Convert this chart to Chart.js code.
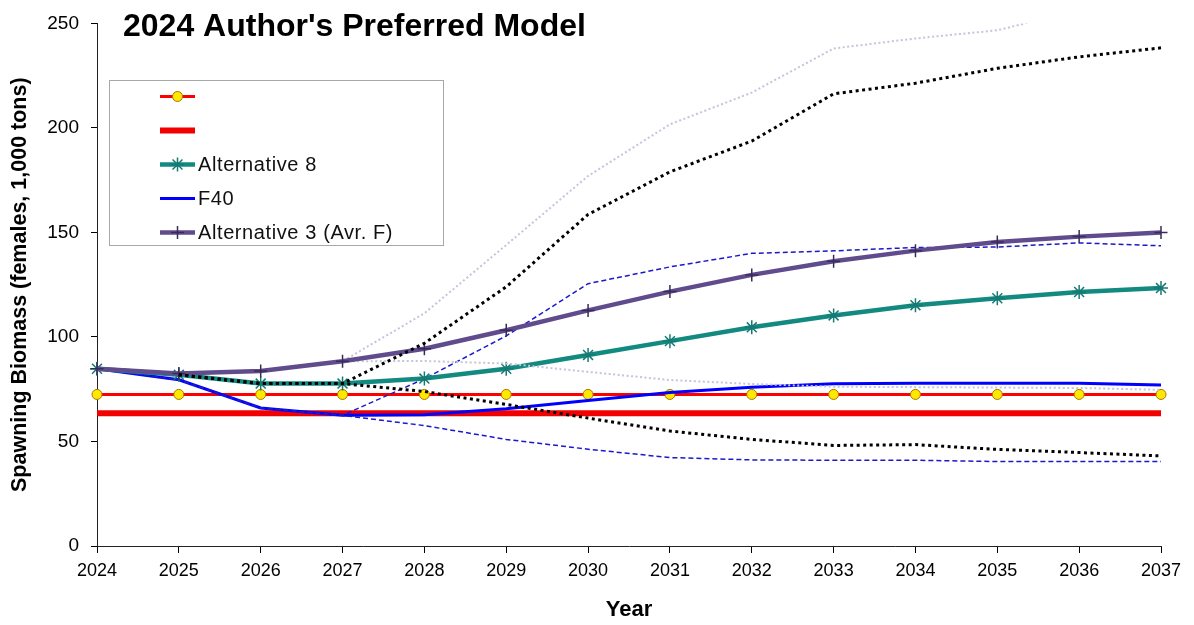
<!DOCTYPE html>
<html>
<head>
<meta charset="utf-8">
<title>2024 Author's Preferred Model</title>
<script src="https://cdn.jsdelivr.net/npm/chart.js@4.4.1/dist/chart.umd.min.js"></script>
<style>
  html, body { margin: 0; padding: 0; background: #fff; }
  #wrap { width: 1194px; height: 625px; }
</style>
</head>
<body>
<div id="wrap"><canvas id="biomass" width="1194" height="625"></canvas></div>
<script>
// projection years and spawning biomass (females, 1,000 tons)
const years = ['2024', '2025', '2026', '2027', '2028', '2029', '2030', '2031', '2032', '2033', '2034', '2035', '2036', '2037'];
const refCircles = [72.5, 72.5, 72.5, 72.5, 72.5, 72.5, 72.5, 72.5, 72.5, 72.5, 72.5, 72.5, 72.5, 72.5];
const refThick = [63.5, 63.5, 63.5, 63.5, 63.5, 63.5, 63.5, 63.5, 63.5, 63.5, 63.5, 63.5, 63.5, 63.5];
const alt8 = [84.8, 81.9, 77.7, 77.7, 80.1, 84.8, 91.4, 98.0, 104.6, 110.3, 115.2, 118.5, 121.5, 123.4];
const f40 = [84.8, 79.5, 66.0, 62.5, 62.8, 65.7, 69.6, 73.4, 76.0, 77.6, 77.8, 77.8, 77.8, 77.0];
const alt3 = [84.8, 82.5, 83.7, 88.4, 94.4, 103.2, 112.7, 121.7, 129.7, 136.2, 141.3, 145.4, 148.0, 150.0];

// upper / lower bounds around each projection
const f40Upper = [84.8, 79.5, 66.0, 62.5, 80.0, 100.5, 125.5, 133.5, 140.0, 141.2, 142.8, 143.0, 145.0, 143.6];
const f40Lower = [84.8, 79.5, 66.0, 62.5, 57.6, 51.0, 46.3, 42.3, 41.2, 41.0, 41.0, 40.4, 40.4, 40.4];
const alt8Upper = [null, 81.9, 77.7, 77.7, 97.0, 124.0, 158.6, 179.0, 193.7, 216.3, 221.4, 228.5, 234.0, 238.3];
const alt8Lower = [null, 81.9, 77.7, 77.7, 73.9, 67.7, 61.2, 55.0, 51.0, 48.1, 48.5, 46.2, 44.7, 43.1];
const alt3Upper = [84.8, 82.5, 83.7, 88.4, 111.3, 144.0, 177.0, 201.7, 216.9, 238.0, 242.8, 246.7, 256.4, 262.0];
const alt3Lower = [84.8, 82.5, 83.7, 88.4, 88.5, 87.3, 83.3, 79.4, 77.5, 76.2, 76.0, 75.8, 75.6, 74.7];

const chartTitle = "2024 Author's Preferred Model";
const FONT = '"Liberation Sans", Arial, sans-serif';

Chart.defaults.font.family = FONT;
Chart.defaults.color = '#000';

function solid(label, data, color, width, order, point) {
  return Object.assign({
    label: label,
    data: data,
    borderColor: color,
    backgroundColor: color,
    borderWidth: width,
    pointRadius: 0,
    tension: 0,
    order: order
  }, point || {});
}

function bound(data, color, width, dash, order) {
  return {
    label: '',
    data: data,
    borderColor: color,
    borderWidth: width,
    borderDash: dash,
    pointRadius: 0,
    tension: 0,
    spanGaps: false,
    order: order
  };
}

const series = [
  solid('', refCircles, '#ff0000', 3, 7, {
    pointRadius: 5, pointStyle: 'circle',
    pointBackgroundColor: '#ffe800', pointBorderColor: '#a87400', pointBorderWidth: 1
  }),
  solid('', refThick, '#f20000', 6, 8),
  solid('Alternative 8', alt8, '#138a80', 4.5, 4, {
    pointRadius: 7, pointStyle: 'star',
    pointBorderColor: '#167a74', pointBorderWidth: 1.5
  }),
  solid('F40', f40, '#0000ff', 3, 6),
  solid('Alternative 3 (Avr. F)', alt3, '#604c8d', 4.5, 2, {
    pointRadius: 6.5, pointStyle: 'cross',
    pointBorderColor: '#3a2a5a', pointBorderWidth: 1.5
  })
];

const bounds = [
  bound(f40Upper, '#1a1acc', 1.5, [5, 3], 5),
  bound(f40Lower, '#1a1acc', 1.5, [5, 3], 5),
  bound(alt8Upper, '#000000', 3, [3, 3.5], 1),
  bound(alt8Lower, '#000000', 3, [3, 3.5], 1),
  bound(alt3Upper, '#c4c4dc', 2, [2, 2.5], 3),
  bound(alt3Lower, '#c4c4dc', 2, [2, 2.5], 3)
];

// title and the boxed legend sit inside the plot area
const overlay = {
  id: 'overlay',
  afterDraw(chart) {
    const c = chart.ctx;
    c.save();
    c.fillStyle = '#000';
    c.font = 'bold 32px ' + FONT;
    c.textBaseline = 'alphabetic';
    c.textAlign = 'left';
    c.fillText(chartTitle, 123, 36);

    c.fillStyle = '#fff';
    c.fillRect(109.5, 80.5, 334, 165);
    c.strokeStyle = '#a8a8a8';
    c.lineWidth = 1;
    c.strokeRect(109.5, 80.5, 334, 165);

    series.forEach((ds, i) => {
      const y = 96.5 + i * 34;
      c.save();
      c.strokeStyle = ds.borderColor;
      c.lineWidth = ds.borderWidth;
      c.setLineDash([]);
      c.beginPath();
      c.moveTo(160, y);
      c.lineTo(195, y);
      c.stroke();
      if (ds.pointRadius) {
        c.fillStyle = ds.pointBackgroundColor || ds.pointBorderColor;
        c.strokeStyle = ds.pointBorderColor;
        c.lineWidth = ds.pointBorderWidth;
        Chart.helpers.drawPoint(c, {
          pointStyle: ds.pointStyle, radius: ds.pointRadius, rotation: 0, borderWidth: ds.pointBorderWidth
        }, 177.5, y);
      }
      c.restore();
      c.fillStyle = '#111';
      c.font = '20px ' + FONT;
      c.letterSpacing = '0.6px';
      c.textBaseline = 'middle';
      c.fillText(ds.label, 198, y + 1);
    });
    c.restore();
  }
};

new Chart(document.getElementById('biomass'), {
  type: 'line',
  data: {
    labels: years,
    datasets: series.concat(bounds)
  },
  options: {
    responsive: false,
    animation: false,
    devicePixelRatio: 1,
    layout: { padding: { top: 18, right: 33, left: 0, bottom: 0 } },
    plugins: {
      legend: { display: false },
      tooltip: { enabled: false }
    },
    scales: {
      x: {
        offset: false,
        grid: { drawOnChartArea: false, drawTicks: true, tickLength: 7, tickColor: '#000' },
        border: { color: '#222', width: 1 },
        ticks: { color: '#000', font: { size: 18 }, padding: 7, maxRotation: 0, autoSkip: false },
        title: {
          display: true, text: 'Year', color: '#000',
          font: { size: 22, weight: 'bold' }, padding: { top: 0, bottom: 2 }
        },
        afterFit(s) { s.height = 79; }
      },
      y: {
        min: 0,
        max: 250,
        ticks: { stepSize: 50, color: '#000', font: { size: 19 }, padding: 12 },
        grid: { drawOnChartArea: false, drawTicks: true, tickLength: 6, tickColor: '#000' },
        border: { color: '#222', width: 1 },
        title: {
          display: true, text: 'Spawning Biomass (females, 1,000 tons)', color: '#000',
          font: { size: 21.5, weight: 'bold' }, padding: { top: 7.6, bottom: 0 }
        },
        afterFit(s) { s.width = 97; }
      }
    }
  },
  plugins: [overlay]
});
</script>
</body>
</html>
